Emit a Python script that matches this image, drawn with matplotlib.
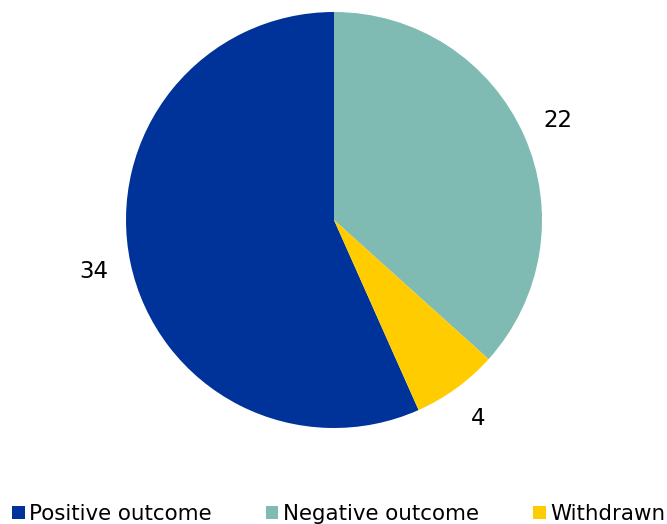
import matplotlib as mpl
mpl.use('Agg')
import matplotlib.pyplot as plt
from matplotlib.patches import Patch

categories = ['Positive outcome', 'Negative outcome', 'Withdrawn']
values = [34, 22, 4]
colors = ['#003399', '#7fbbb2', '#ffcc00']

fig = plt.figure(figsize=(6.67, 5.24), dpi=100)
# square axes centred on the pie
ax = fig.add_axes([126 / 667, 96 / 524, 416 / 667, 416 / 524])

wedges, texts = ax.pie(values, colors=colors, startangle=-66, counterclock=False,
                       labels=[str(v) for v in values], labeldistance=1.18,
                       radius=1.0, wedgeprops={'linewidth': 0})
for t in texts:
    t.set_ha('center')
    t.set_va('center')
    t.set_fontsize(16.5)
ax.set_xlim(-1, 1)
ax.set_ylim(-1, 1)
ax.set_aspect('equal')

handles = [Patch(facecolor=c, edgecolor='none') for c in colors]
fig.legend(handles, categories, loc='lower left', bbox_to_anchor=(-0.001, -0.024),
           ncol=3, frameon=False, fontsize=15.4, handlelength=0.58, handleheight=0.58,
           handletextpad=0.2, columnspacing=2.55, borderaxespad=0.2)

plt.savefig('out.png', dpi=100)
